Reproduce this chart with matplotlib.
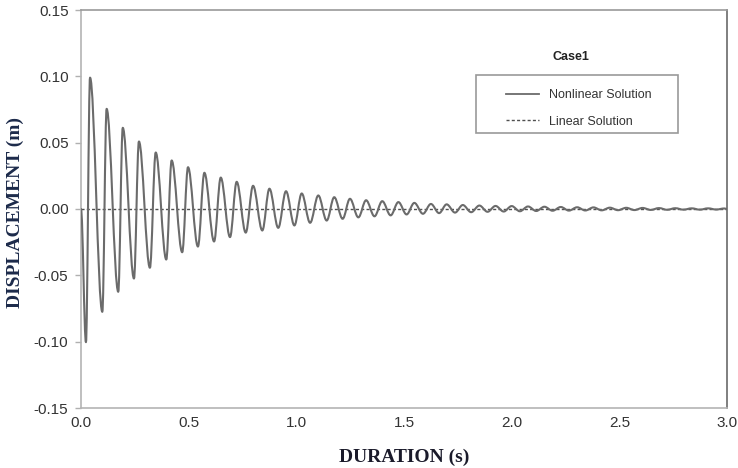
import matplotlib
matplotlib.use("Agg")
import matplotlib.pyplot as plt
from matplotlib.patches import Rectangle, PathPatch
from matplotlib.path import Path
from matplotlib.lines import Line2D
from matplotlib.ticker import FormatStrFormatter

# Extrema of the nonlinear response (time s, displacement m)
peak_t = [0.042, 0.119, 0.194, 0.269, 0.347, 0.421, 0.497, 0.573, 0.649, 0.723,
          0.799, 0.875, 0.952, 1.025, 1.102, 1.176, 1.249, 1.324, 1.399, 1.474,
          1.548, 1.625, 1.698, 1.773, 1.850, 1.925, 2.000, 2.076, 2.152, 2.228,
          2.304, 2.380, 2.456, 2.532, 2.608, 2.684, 2.760, 2.836, 2.912, 2.988]
peak_v = [0.0990, 0.0755, 0.0612, 0.0509, 0.0426, 0.0366, 0.0315, 0.0273, 0.0237, 0.0205,
          0.0175, 0.0153, 0.0134, 0.0117, 0.0102, 0.0089, 0.0077, 0.0066, 0.0059, 0.0052,
          0.0046, 0.0038, 0.0035, 0.0030, 0.0026, 0.0023, 0.0022, 0.0019, 0.0017, 0.0015,
          0.0013, 0.0012, 0.0010, 0.0009, 0.0008, 0.0007, 0.0006, 0.0005, 0.0005, 0.0004]
trough_t = [0.023, 0.099, 0.173, 0.246, 0.320, 0.396, 0.470, 0.543, 0.618, 0.692,
            0.765, 0.842, 0.916, 0.991, 1.064, 1.141, 1.215, 1.288, 1.363, 1.438,
            1.512, 1.588, 1.663, 1.737, 1.812, 1.888, 1.963, 2.038, 2.114, 2.190,
            2.266, 2.342, 2.418, 2.494, 2.570, 2.646, 2.722, 2.798, 2.874, 2.950]
trough_v = [-0.1004, -0.0775, -0.0624, -0.0524, -0.0443, -0.0381, -0.0326, -0.0283, -0.0245, -0.0212,
            -0.0178, -0.0162, -0.0142, -0.0124, -0.0104, -0.0087, -0.0074, -0.0063, -0.0055, -0.0048,
            -0.0041, -0.0036, -0.0031, -0.0027, -0.0024, -0.0021, -0.0019, -0.0017, -0.0015, -0.0013,
            -0.0012, -0.0011, -0.0010, -0.0009, -0.0008, -0.0007, -0.0006, -0.0005, -0.0005, -0.0004]
start_t, start_v = 0.0, 0.0
end_t, end_v = 3.0, 0.0

linear_t = [0.0, 3.0]
linear_v = [0.0, 0.0]

x_ticks = [0.0, 0.5, 1.0, 1.5, 2.0, 2.5, 3.0]
y_ticks = [-0.15, -0.10, -0.05, 0.00, 0.05, 0.10, 0.15]

# assemble nonlinear series in time order
pts = [(start_t, start_v)] + list(zip(peak_t, peak_v)) + list(zip(trough_t, trough_v)) + [(end_t, end_v)]
pts.sort(key=lambda p: p[0])

# smoothed line (like a spreadsheet "smoothed line"): cubic Bezier segments
# through the read extrema, horizontal tangents at each turning point
verts = [pts[0]]
codes = [Path.MOVETO]
k = 0.36
for (t0, v0), (t1, v1) in zip(pts[:-1], pts[1:]):
    dt = t1 - t0
    verts += [(t0 + k * dt, v0), (t1 - k * dt, v1), (t1, v1)]
    codes += [Path.CURVE4] * 3

W, H = 738, 468
fig = plt.figure(figsize=(W / 100, H / 100), dpi=100)
ax = fig.add_axes([81 / W, 1 - 408 / H, (727 - 81) / W, (408 - 10) / H])

NL_COLOR, NL_LW = "#6b6b6b", 1.5
LIN_COLOR, LIN_LS = "#505050", (0, (2.2, 1.6))

ax.plot(linear_t, linear_v, color=LIN_COLOR, lw=1.0, ls=LIN_LS, zorder=2)
ax.add_patch(PathPatch(Path(verts, codes), fill=False, edgecolor=NL_COLOR,
                       lw=NL_LW, zorder=3, capstyle="round", joinstyle="round"))

ax.set_xlim(0, 3.0)
ax.set_ylim(-0.15, 0.15)
ax.set_xticks(x_ticks)
ax.set_yticks(y_ticks)
ax.xaxis.set_major_formatter(FormatStrFormatter("%.1f"))
ax.yaxis.set_major_formatter(FormatStrFormatter("%.2f"))

for lab in ax.get_xticklabels() + ax.get_yticklabels():
    lab.set_fontfamily(["Liberation Sans", "DejaVu Sans"])
    lab.set_fontsize(11)
    lab.set_color("#333333")
ax.tick_params(axis="x", length=0, pad=6)
ax.tick_params(axis="y", length=4, width=1.0, color="#b0b0b0", pad=5, direction="out")

ax.spines["left"].set_color("#b4b4b4")
ax.spines["bottom"].set_color("#b4b4b4")
ax.spines["top"].set_color("#9a9a9a")
ax.spines["right"].set_color("#6a6a6a")
for s in ax.spines.values():
    s.set_linewidth(1.2)

label_font = dict(family=["Liberation Serif", "DejaVu Serif"], size=14, weight="bold")
fig.text(404 / W, 1 - 457 / H, "DURATION (s)", ha="center", va="center",
         color="#1a1a2a", **label_font)
fig.text(15 / W, 1 - 212 / H, "DISPLACEMENT (m)", ha="center", va="center",
         rotation=90, color="#1c2a4a", **label_font)

# legend
h_nl = Line2D([], [], color=NL_COLOR, lw=1.3)
h_lin = Line2D([], [], color=LIN_COLOR, lw=1.0, ls=LIN_LS)
leg = ax.legend([h_nl, h_lin], ["Nonlinear Solution", "Linear Solution"],
                loc="upper left", bbox_to_anchor=(500 / W, 1 - 83 / H),
                bbox_transform=fig.transFigure, frameon=False, borderpad=0,
                handlelength=2.6, handletextpad=0.8, labelspacing=1.15,
                prop=dict(family=["Liberation Sans", "DejaVu Sans"], size=9))
for t in leg.get_texts():
    t.set_color("#333333")
fig.patches.append(Rectangle((476 / W, 1 - 133 / H), 202 / W, 58 / H,
                             transform=fig.transFigure, fill=False,
                             edgecolor="#999999", lw=1.2))
fig.text(571 / W, 1 - 57 / H, "Case1", ha="center", va="center",
         family=["Liberation Sans", "DejaVu Sans"], size=9, weight="bold",
         color="#222222")

fig.savefig("out.png", dpi=100)
